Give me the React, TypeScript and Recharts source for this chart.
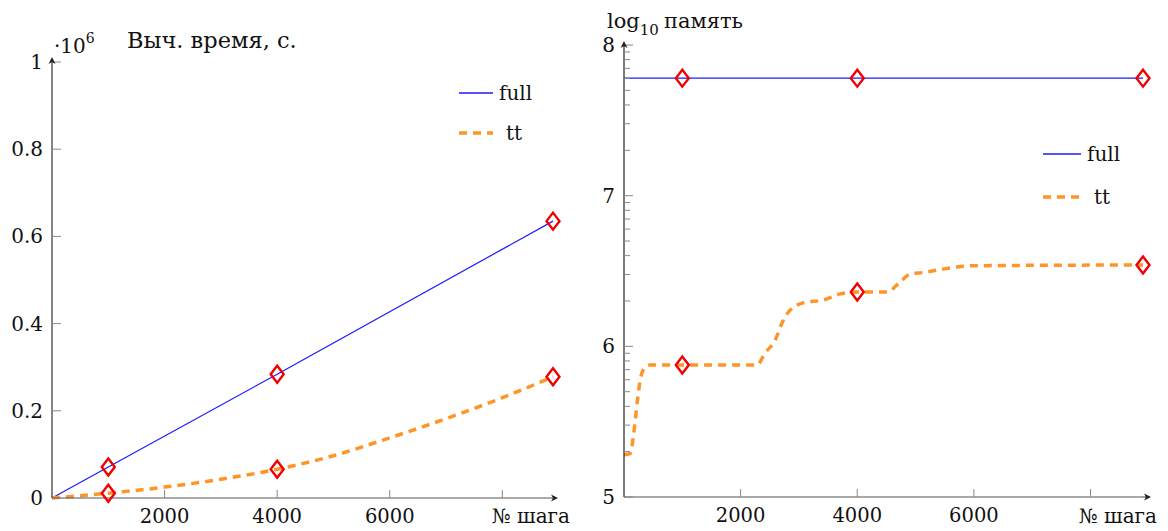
import React from 'react';
import { LineChart, Line, XAxis, YAxis, Legend } from 'recharts';

const FONT = "'DejaVu Serif', serif";
const TXT = { fontFamily: FONT };
const BLUE = '#1a1aff';
const ORANGE = '#ff9428';
const MARK_RED = '#f00000';

// steps where the red diamonds sit
const MARK_STEPS = [1000, 4000, 8900];
const X_TICKS = [2000, 4000, 6000, 8000];

// left panel: computation time, x10^6 s
const TIME_FULL_STEPS = [0, 1000, 4000, 8900];
const TIME_FULL = [0, 0.071, 0.284, 0.635];
const TIME_TT_STEPS = [0, 1000, 2000, 3000, 4000, 5000, 6000, 7000, 8000, 8900];
const TIME_TT = [0, 0.011, 0.025, 0.043, 0.066, 0.097, 0.138, 0.182, 0.23, 0.278];
const TIME_TICKS = [0, 0.2, 0.4, 0.6, 0.8, 1];
const TIME_TICK_LABELS = ['0', '0.2', '0.4', '0.6', '0.8', '1'];

// right panel: log10 of memory
const MEM_FULL_STEPS = [0, 1000, 4000, 8900];
const MEM_FULL = [7.78, 7.78, 7.78, 7.78];
const MEM_TT_STEPS = [0, 110, 160, 230, 280, 360, 450, 1000, 2280, 2420, 2590, 2710, 2820, 3070, 3420, 3710, 4000, 4510, 4740, 4910, 5130, 5430, 5720, 6000, 8900];
const MEM_TT = [5.28, 5.29, 5.4, 5.64, 5.78, 5.86, 5.876, 5.876, 5.876, 5.956, 6.04, 6.155, 6.228, 6.288, 6.308, 6.348, 6.36, 6.36, 6.43, 6.48, 6.49, 6.51, 6.527, 6.535, 6.54];
const MEM_MAJOR = [5, 6, 7, 8];
const MEM_MAJOR_LABELS = ['5', '6', '7', '8'];
const MINOR_MULT = [2, 3, 4, 5, 6, 7, 8, 9];
const MEM_MINOR = MEM_MAJOR.slice(0, -1).flatMap(p => MINOR_MULT.map(k => p + Math.log10(k)));

const toRows = (steps: number[], vals: number[]) => steps.map((step, i) => ({ step, v: vals[i] }));

const Diamond = (props: any) => {
  const { cx, cy, payload, index } = props;
  if (!MARK_STEPS.includes(payload.step)) return <g key={`d-${index}`} />;
  return (
    <path
      key={`d-${index}`}
      d={`M${cx},${cy - 8.5} L${cx + 6.5},${cy} L${cx},${cy + 8.5} L${cx - 6.5},${cy} Z`}
      fill="none"
      stroke={MARK_RED}
      strokeWidth={2.4}
    />
  );
};

const XTick = (props: any) => {
  const { x, y, payload } = props;
  return (
    <g>
      <line x1={x} x2={x} y1={y} y2={y - 8} stroke="#888" strokeWidth={1} />
      {payload.value !== 8000 && (
        <text x={x} y={y + 18} textAnchor="middle" dominantBaseline="central" style={TXT} fontSize={19.5} fill="#111">
          {payload.value}
        </text>
      )}
    </g>
  );
};

const makeYTick = (majors: number[], labels: string[]) => (props: any) => {
  const { x, y, payload } = props;
  const i = majors.findIndex(m => Math.abs(m - payload.value) < 1e-9);
  const major = i >= 0;
  return (
    <g key={`yt-${payload.value}`}>
      <line x1={x} x2={x + (major ? 9 : 6)} y1={y} y2={y} stroke="#888" strokeWidth={1} />
      {major && (
        <text x={x - 9} y={y} textAnchor="end" dominantBaseline="central" style={TXT} fontSize={20} fill="#111">
          {labels[i]}
        </text>
      )}
    </g>
  );
};

const LegendBox = ({ lineLen, gap, ttShift }: { lineLen: number; gap: number; ttShift: number }) => (
  <svg width={110} height={gap + 40} style={{ overflow: 'visible' }}>
    <line x1={3} x2={3 + lineLen} y1={18} y2={18} stroke={BLUE} strokeWidth={1.3} />
    <text x={9 + lineLen} y={18} dominantBaseline="central" style={TXT} fontSize={20} fill="#111">full</text>
    <line x1={3} x2={3 + lineLen} y1={18 + gap} y2={18 + gap} stroke={ORANGE} strokeWidth={3.5} strokeDasharray="8 6" />
    <text x={9 + lineLen + ttShift} y={18 + gap} dominantBaseline="central" style={TXT} fontSize={20} fill="#111">tt</text>
  </svg>
);

const Arrow = ({ x, y, dir }: { x: number; y: number; dir: 'right' | 'up' }) => {
  const d = dir === 'right'
    ? `M${x - 7},${y - 3.5} L${x},${y} L${x - 7},${y + 3.5} L${x - 5},${y} Z`
    : `M${x - 3.5},${y + 7} L${x},${y} L${x + 3.5},${y + 7} L${x},${y + 5} Z`;
  return <path d={d} fill="#222" />;
};

export default function App() {
  return (
    <div style={{ position: 'absolute', left: 0, top: 0, width: 1168, height: 531, background: '#fff', overflow: 'hidden', fontFamily: FONT }}>
      {/* left: time */}
      <div style={{ position: 'absolute', left: 0, top: 0 }}>
        <LineChart width={590} height={531} margin={{ top: 62, right: 37, bottom: 0, left: 0 }}>
          <XAxis
            type="number"
            dataKey="step"
            domain={[0, 8900]}
            ticks={X_TICKS}
            height={33}
            tickSize={0}
            tickMargin={0}
            tickLine={false}
            axisLine={{ stroke: '#555', strokeWidth: 1.2 }}
            tick={<XTick />}
            allowDuplicatedCategory={false}
          />
          <YAxis
            type="number"
            domain={[0, 1]}
            ticks={TIME_TICKS}
            width={52}
            tickSize={0}
            tickMargin={0}
            tickLine={false}
            axisLine={{ stroke: '#333', strokeWidth: 1.2 }}
            tick={makeYTick(TIME_TICKS, TIME_TICK_LABELS)}
          />
          <Legend
            layout="vertical"
            align="center"
            verticalAlign="middle"
            wrapperStyle={{ position: 'absolute', left: 456, top: 75, width: 110 }}
            content={() => <LegendBox lineLen={34} gap={40} ttShift={7} />}
          />
          <Line data={toRows(TIME_FULL_STEPS, TIME_FULL)} dataKey="v" type="linear" stroke={BLUE} strokeWidth={1.2} dot={Diamond} activeDot={false} isAnimationActive={false} />
          <Line data={toRows(TIME_TT_STEPS, TIME_TT)} dataKey="v" type="monotone" stroke={ORANGE} strokeWidth={3.5} strokeDasharray="8 6" dot={Diamond} activeDot={false} isAnimationActive={false} />
        </LineChart>
      </div>

      {/* right: memory */}
      <div style={{ position: 'absolute', left: 570, top: 0 }}>
        <LineChart width={598} height={531} margin={{ top: 45, right: 25, bottom: 0, left: 0 }}>
          <XAxis
            type="number"
            dataKey="step"
            domain={[0, 8900]}
            ticks={X_TICKS}
            height={34}
            tickSize={0}
            tickMargin={0}
            tickLine={false}
            axisLine={{ stroke: '#555', strokeWidth: 1.2 }}
            tick={<XTick />}
            allowDuplicatedCategory={false}
          />
          <YAxis
            type="number"
            domain={[5, 8]}
            ticks={[...MEM_MAJOR, ...MEM_MINOR]}
            interval={0}
            width={54}
            tickSize={0}
            tickMargin={0}
            tickLine={false}
            axisLine={{ stroke: '#222', strokeWidth: 1.2 }}
            tick={makeYTick(MEM_MAJOR, MEM_MAJOR_LABELS)}
          />
          <Legend
            layout="vertical"
            align="center"
            verticalAlign="middle"
            wrapperStyle={{ position: 'absolute', left: 470, top: 136, width: 110 }}
            content={() => <LegendBox lineLen={38} gap={43} ttShift={7} />}
          />
          <Line data={toRows(MEM_FULL_STEPS, MEM_FULL)} dataKey="v" type="linear" stroke={BLUE} strokeWidth={1.3} dot={Diamond} activeDot={false} isAnimationActive={false} />
          <Line data={toRows(MEM_TT_STEPS, MEM_TT)} dataKey="v" type="monotone" stroke={ORANGE} strokeWidth={3.5} strokeDasharray="8 6" dot={Diamond} activeDot={false} isAnimationActive={false} />
        </LineChart>
      </div>

      {/* axis arrows and free labels */}
      <svg width={1168} height={531} style={{ position: 'absolute', left: 0, top: 0, pointerEvents: 'none' }}>
        <line x1={553} x2={556} y1={498} y2={498} stroke="#555" strokeWidth={1.2} />
        <Arrow x={558} y={498} dir="right" />
        <line x1={52} x2={52} y1={62} y2={59} stroke="#333" strokeWidth={1.2} />
        <Arrow x={52} y={57} dir="up" />
        <line x1={1143} x2={1149} y1={497} y2={497} stroke="#555" strokeWidth={1.2} />
        <Arrow x={1151} y={497} dir="right" />
        <line x1={624} x2={624} y1={45} y2={43} stroke="#222" strokeWidth={1.2} />
        <Arrow x={624} y={41} dir="up" />

        <text x={54} y={53} style={TXT} fontSize={20} fill="#111">
          ·10<tspan fontSize={14} dy={-10}>6</tspan>
        </text>
        <text x={127} y={48} style={TXT} fontSize={22.5} fill="#111">Выч. время, с.</text>
        <text x={570} y={523} textAnchor="end" style={TXT} fontSize={20} fill="#111">№ шага</text>

        <text x={607} y={28} style={TXT} fontSize={21} fill="#111">
          log<tspan fontSize={15} dy={7}>10</tspan>
          <tspan dy={-7} dx={5}>память</tspan>
        </text>
        <text x={1157} y={523} textAnchor="end" style={TXT} fontSize={20} fill="#111">№ шага</text>
      </svg>
    </div>
  );
}
